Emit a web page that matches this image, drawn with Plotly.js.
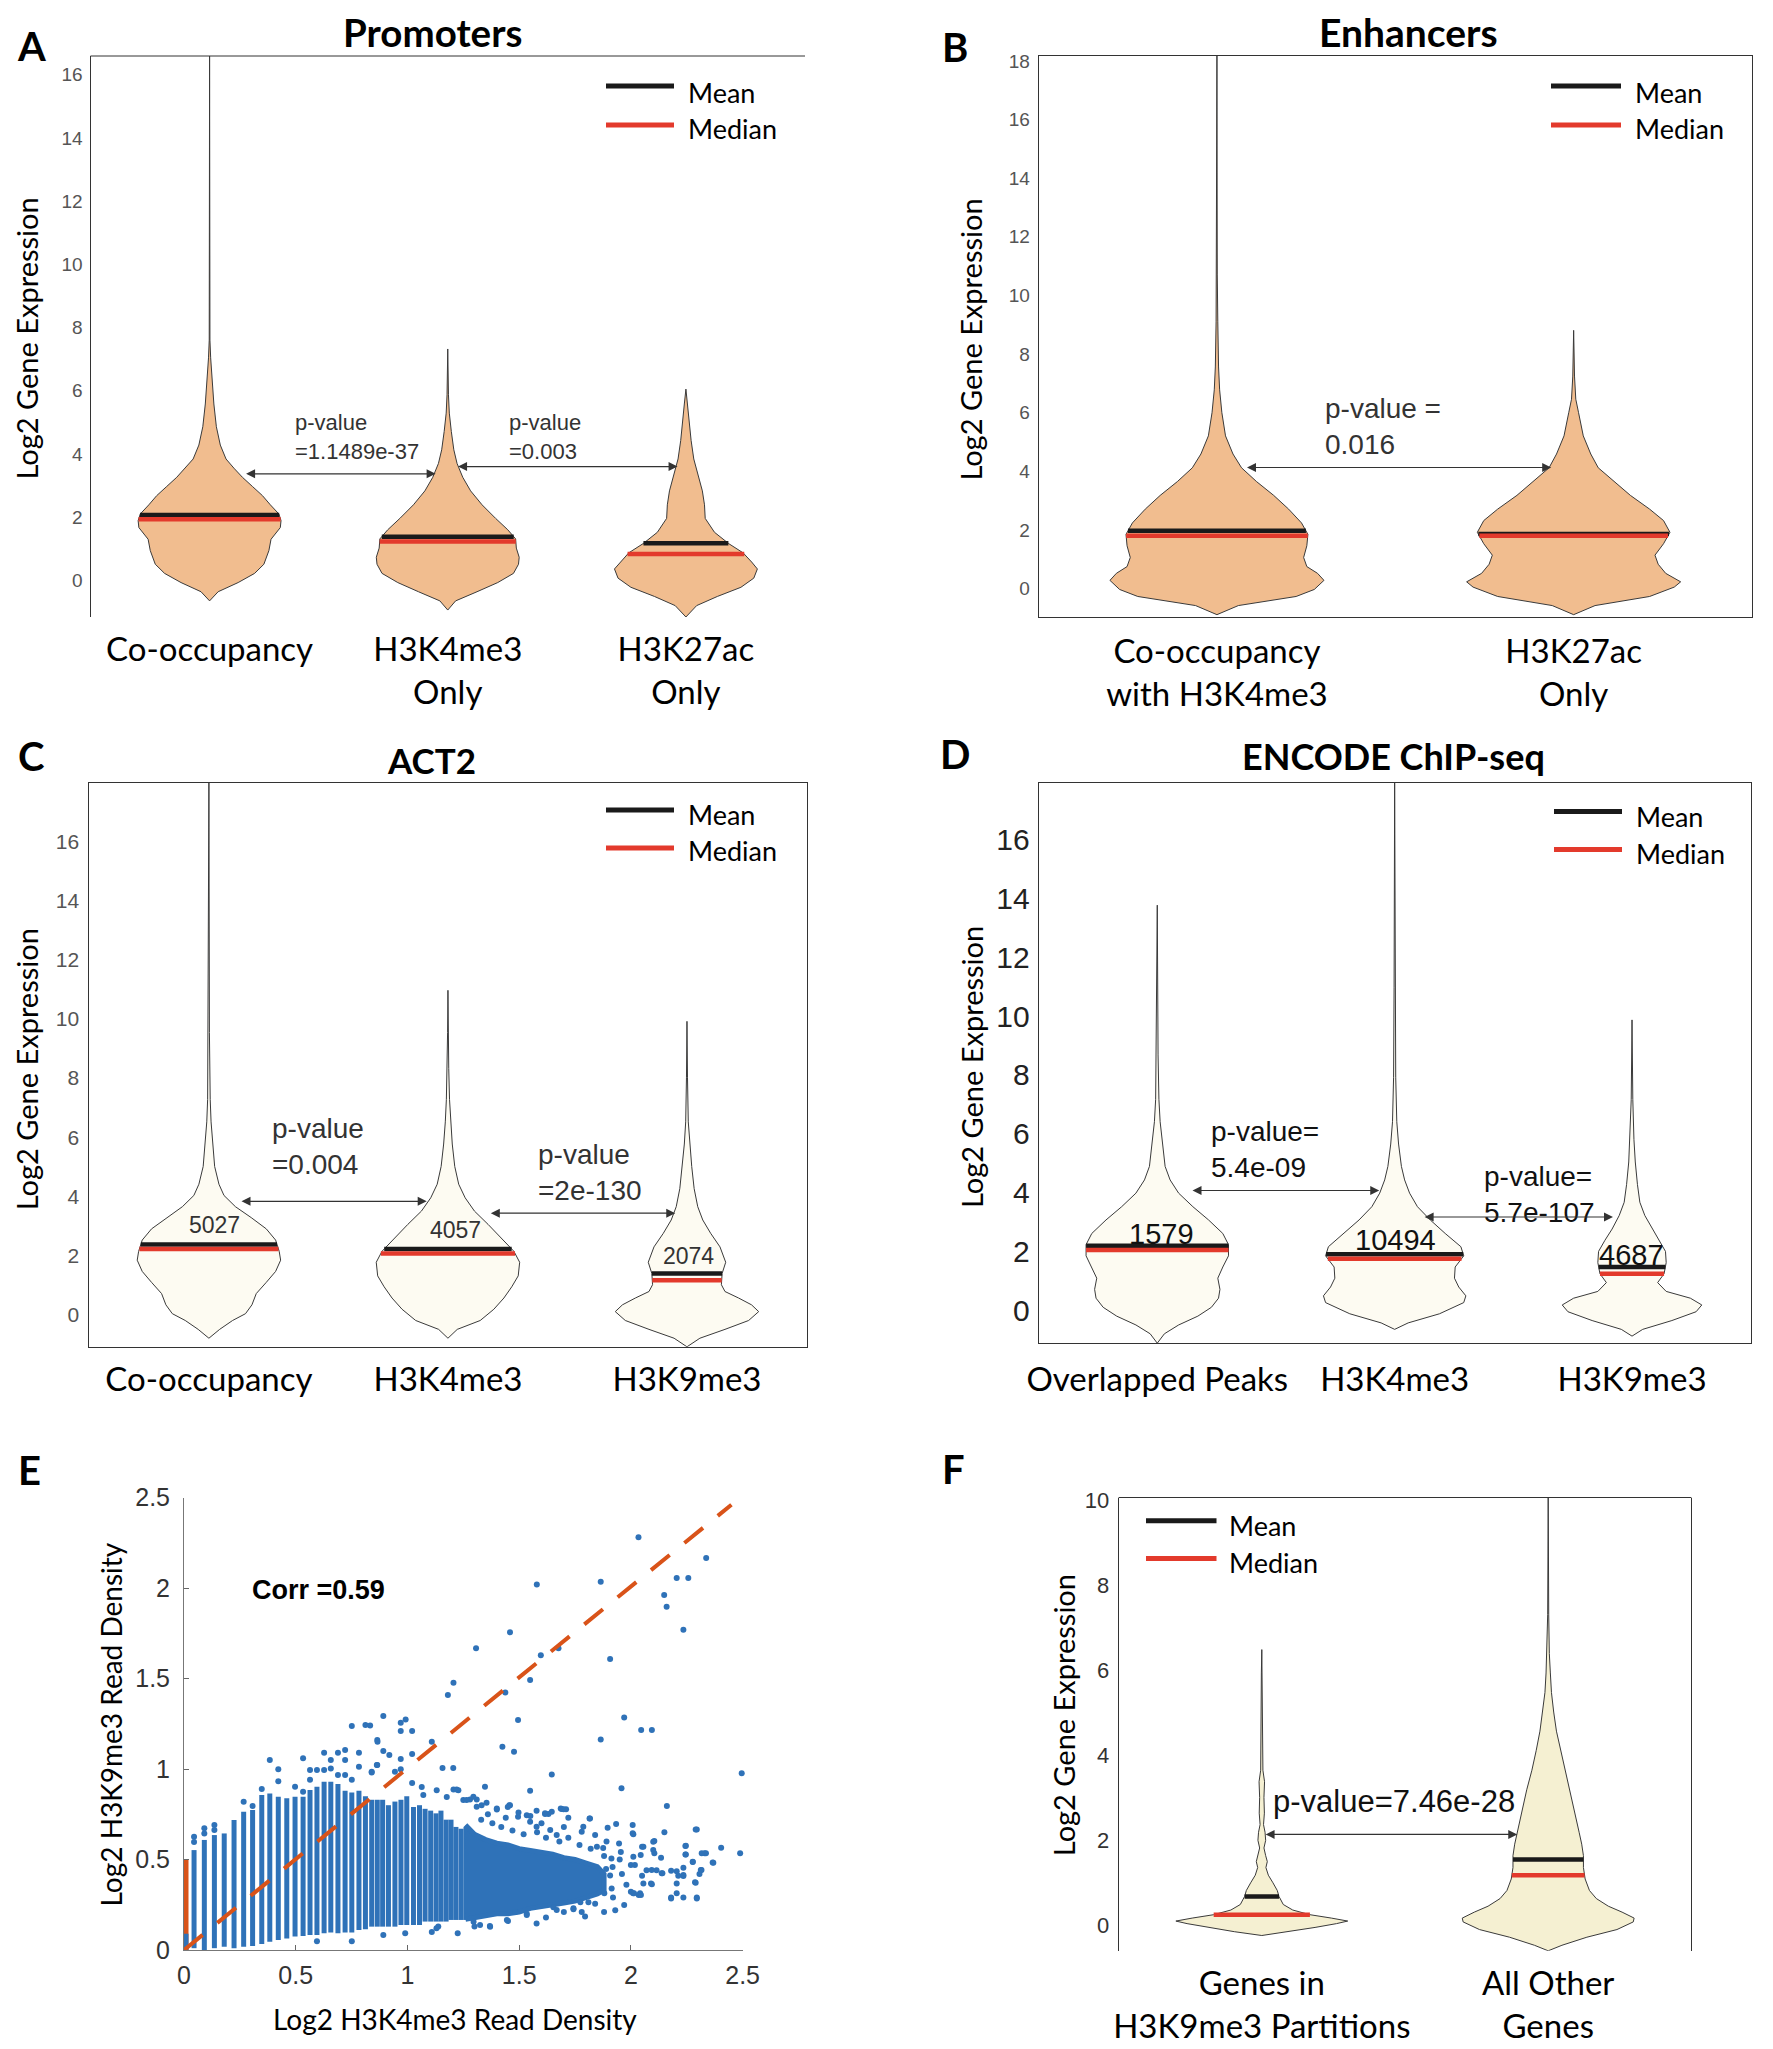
<!DOCTYPE html>
<html>
<head>
<meta charset="utf-8">
<script src="https://cdn.plot.ly/plotly-3.0.1.min.js"></script>
<style>html,body{margin:0;padding:0;background:#fff;}</style>
</head>
<body>
<div id="fig" style="width:1773px;height:2049px;"></div>
<script>
// ================= DATA =================
// ---- A: Promoters ----
const promoterCategories = ['Co-occupancy', 'H3K4me3<br>Only', 'H3K27ac<br>Only'];
const promoterMeans   = [2.07, 1.38, 1.17];
const promoterMedians = [1.93, 1.23, 0.83];
const promoterPvalues = ['p-value<br>=1.1489e-37', 'p-value<br>=0.003'];
// violin profiles: expression level / relative half-width (1 = widest)
const promCoLevel  = [-0.65,-0.36,-0.07,0.22,0.51,0.94,1.30,1.67,1.89,2.10,2.39,2.68,2.97,3.26,3.55,3.84,4.28,4.86,5.58,6.31,7.04,7.60,16.59];
const promCoDens   = [0,0.12,0.40,0.63,0.76,0.83,0.86,0.99,1.00,0.97,0.85,0.74,0.60,0.46,0.34,0.23,0.15,0.095,0.06,0.035,0.015,0.005,0];
const promK4Level  = [-0.94,-0.65,-0.36,-0.07,0.22,0.51,0.73,1.02,1.31,1.60,1.96,2.39,2.83,3.26,3.70,4.13,4.71,5.29,5.87,7.32];
const promK4Dens   = [0,0.11,0.41,0.70,0.92,0.99,1.00,0.96,0.95,0.84,0.67,0.48,0.32,0.21,0.13,0.085,0.05,0.022,0.01,0];
const promK27Level = [-1.16,-0.80,-0.51,-0.22,0.07,0.36,0.58,0.87,1.16,1.52,1.96,2.39,2.83,3.26,3.84,4.42,5.00,5.58,6.05];
const promK27Dens  = [0,0.15,0.44,0.77,0.95,1.00,0.92,0.80,0.60,0.40,0.27,0.26,0.23,0.18,0.11,0.073,0.044,0.022,0];

// ---- B: Enhancers ----
const enhancerCategories = ['Co-occupancy<br>with H3K4me3', 'H3K27ac<br>Only'];
const enhancerMeans   = [1.97, 1.86];
const enhancerMedians = [1.80, 1.80];
const enhancerPvalues = ['p-value =<br>0.016'];
const enhCoLevel  = [-0.89,-0.58,-0.27,-0.03,0.28,0.52,0.75,1.06,1.46,1.85,2.24,2.71,3.18,3.65,4.12,4.59,5.21,6.00,6.78,7.56,9.10,10.7,18.17];
const enhCoDens   = [0,0.20,0.74,0.91,1.00,0.94,0.84,0.81,0.84,0.85,0.79,0.67,0.53,0.37,0.23,0.15,0.08,0.046,0.025,0.015,0.008,0.003,0];
const enhK27Level = [-0.89,-0.58,-0.27,0.05,0.23,0.52,0.83,1.14,1.53,1.92,2.32,2.71,3.18,3.65,4.12,4.59,5.21,6.00,6.46,7.25,8.81];
const enhK27Dens  = [0,0.20,0.71,0.94,1.00,0.86,0.79,0.76,0.84,0.90,0.84,0.71,0.53,0.38,0.23,0.16,0.09,0.046,0.02,0.008,0];

// ---- C: ACT2 ----
const act2Categories = ['Co-occupancy', 'H3K4me3', 'H3K9me3'];
const act2Means   = [2.37, 2.22, 1.39];
const act2Medians = [2.22, 2.07, 1.16];
const act2Counts  = ['5027', '4057', '2074'];
const act2Pvalues = ['p-value<br>=0.004', 'p-value<br>=2e-130'];
const actCoLevel = [-0.80,-0.50,-0.20,0.03,0.33,0.71,1.09,1.46,1.84,2.14,2.52,2.90,3.28,3.65,4.03,4.41,5.01,5.77,6.52,7.28,8.03,9.54,18.0];
const actCoDens  = [0,0.15,0.33,0.51,0.60,0.66,0.80,0.93,1.00,0.98,0.93,0.80,0.59,0.37,0.21,0.14,0.08,0.05,0.03,0.018,0.011,0.007,0];
const actK4Level = [-0.80,-0.50,-0.20,0.18,0.56,0.94,1.31,1.77,2.14,2.60,3.05,3.50,3.95,4.41,5.01,5.77,6.52,7.28,8.33,9.54,10.97];
const actK4Dens  = [0,0.13,0.45,0.64,0.78,0.89,0.98,1.00,0.92,0.74,0.56,0.37,0.24,0.15,0.095,0.06,0.037,0.022,0.011,0.005,0];
const actK9Level = [-1.09,-0.80,-0.50,-0.20,0.10,0.33,0.56,0.78,1.01,1.39,1.77,2.29,2.75,3.20,3.65,4.26,5.01,5.77,6.52,8.03,9.92];
const actK9Dens  = [0,0.18,0.53,0.86,1.00,0.90,0.72,0.53,0.48,0.49,0.54,0.46,0.33,0.22,0.15,0.10,0.066,0.037,0.018,0.007,0];

// ---- D: ENCODE ChIP-seq ----
const encodeCategories = ['Overlapped Peaks', 'H3K4me3', 'H3K9me3'];
const encodeMeans   = [2.19, 1.90, 1.47];
const encodeMedians = [2.05, 1.75, 1.24];
const encodeCounts  = ['1579', '10494', '4687'];
const encodePvalues = ['p-value=<br>5.4e-09', 'p-value=<br>5.7e-107'];
const encOvLevel = [-1.12,-0.80,-0.50,-0.20,0.10,0.41,0.71,1.09,1.47,1.85,2.23,2.61,3.07,3.52,3.98,4.43,4.89,5.65,6.41,7.17,8.68,13.77];
const encOvDens  = [0,0.10,0.30,0.57,0.76,0.86,0.88,0.85,0.92,1.00,1.00,0.92,0.72,0.50,0.30,0.18,0.11,0.07,0.04,0.023,0.011,0];
const encK4Level = [-0.65,-0.43,-0.12,0.26,0.49,0.79,1.09,1.47,1.85,2.16,2.61,3.07,3.52,3.98,4.43,4.89,5.65,6.41,7.92,10.96,17.94];
const encK4Dens  = [0,0.19,0.63,0.97,1.00,0.90,0.84,0.85,0.97,0.93,0.71,0.50,0.32,0.21,0.14,0.095,0.055,0.03,0.015,0.008,0];
const encK9Level = [-0.88,-0.65,-0.35,-0.05,0.18,0.41,0.64,0.94,1.24,1.62,2.00,2.38,2.76,3.22,3.67,4.28,5.04,5.80,7.17,9.87];
const encK9Dens  = [0,0.15,0.56,0.90,0.98,0.82,0.48,0.36,0.45,0.48,0.47,0.38,0.28,0.18,0.11,0.076,0.046,0.027,0.011,0];

// ---- E: H3K4me3 vs H3K9me3 read density ----
const corrLabel = 'Corr =0.59';
// discrete columns of points: x value, lowest and highest y
const colH3K4 = [0,0.045,0.091,0.136,0.18,0.224,0.267,0.307,0.348,0.384,0.422,0.46,0.497,0.533,0.564,0.595,0.627,0.657,0.689,0.721,0.751,0.783,0.812,0.84,0.865,0.889,0.915,0.944,0.971,0.997,1.027,1.054,1.079,1.104,1.128,1.15,1.173,1.195,1.217,1.24,1.262];
const colH3K9Low  = [0,0.01,0,0.01,0.018,0.01,0.018,0.022,0.033,0.046,0.055,0.064,0.074,0.077,0.083,0.083,0.092,0.096,0.092,0.096,0.096,0.11,0.114,0.129,0.129,0.129,0.129,0.129,0.138,0.138,0.138,0.138,0.157,0.157,0.157,0.157,0.157,0.166,0.166,0.166,0.166];
const colH3K9High = [0.09,0.552,0.608,0.635,0.644,0.718,0.764,0.773,0.856,0.865,0.847,0.838,0.847,0.847,0.884,0.902,0.93,0.93,0.917,0.88,0.87,0.88,0.85,0.83,0.83,0.83,0.80,0.82,0.83,0.85,0.79,0.80,0.78,0.77,0.755,0.77,0.72,0.72,0.68,0.67,0.68];
// outline of the saturated dense cloud
const coreH3K4 = [1.26,1.30,1.35,1.40,1.45,1.50,1.55,1.60,1.65,1.70,1.75,1.80,1.85,1.88,1.88,1.85,1.80,1.75,1.70,1.65,1.60,1.55,1.50,1.45,1.40,1.35,1.30,1.26];
const coreH3K9 = [0.69,0.64,0.61,0.59,0.58,0.56,0.55,0.54,0.53,0.51,0.50,0.48,0.46,0.42,0.33,0.31,0.29,0.27,0.26,0.25,0.24,0.23,0.21,0.20,0.20,0.19,0.18,0.17];
// individually visible points [H3K4me3, H3K9me3]
const loosePoints = [
 [0.045,0.597],[0.045,0.626],[0.091,0.644],[0.091,0.672],[0.136,0.663],[0.136,0.69],[0.267,0.819],[0.307,0.795],
 [0.348,0.889],[0.384,1.05],[0.422,0.933],[0.422,0.998],[0.497,0.902],[0.533,0.875],[0.533,1.059],[0.564,0.94],
 [0.564,0.994],[0.595,0.994],[0.595,0.049],[0.627,0.994],[0.627,1.09],[0.657,1.003],[0.657,1.05],[0.689,0.967],
 [0.689,1.09],[0.721,0.967],[0.721,1.05],[0.721,1.105],[0.751,0.94],[0.751,1.238],[0.751,0.049],[0.783,1.013],
 [0.783,1.09],[0.812,1.243],[0.84,0.985],[0.865,1.022],[0.865,1.16],
 [0.833,1.24],[0.892,1.293],[0.97,1.256],[0.992,1.274],[0.97,1.21],[1.021,1.21],[0.866,1.15],[1.109,1.15],
 [0.892,1.1],[0.919,1.077],[1.021,1.083],[0.97,1.055],[1.157,1.005],[1.205,1.005],[0.863,1.022],[0.944,0.985],
 [0.97,0.998],[1.021,0.923],[0.84,0.98],[1.064,0.9],[1.071,0.857],[1.131,0.882],[1.176,0.845],[1.228,0.882],
 [1.181,1.409],[1.206,1.477],[1.307,1.667],[1.438,1.422],[1.549,1.492],[1.495,1.271],[1.425,1.123],[1.477,1.095],
 [1.646,0.97],[1.549,0.88],[1.597,1.628],[1.347,0.902],
 [2.034,2.28],[2.337,2.166],[2.205,2.055],[2.257,2.055],[2.149,1.961],[2.16,1.897],[2.235,1.77],[1.865,2.035],
 [1.579,2.02],[1.459,1.755],[1.676,1.667],[1.907,1.608],
 [1.97,1.285],[2.046,1.215],[2.094,1.215],[1.865,1.163],[1.958,0.893],[2.496,0.976],[2.161,0.795],[1.69,0.779],
 [1.72,0.731],[1.815,0.727],[1.934,0.696],[2.008,0.69],[2.008,0.645],[2.15,0.65],[2.295,0.666],[2.404,0.565],
 [2.489,0.534],[2.244,0.575],[2.244,0.528],[2.105,0.602],[2.33,0.534],[2.366,0.484],[2.277,0.488],[2.316,0.442],
 [2.235,0.455],[2.235,0.409],[2.205,0.435],[2.18,0.438],[2.138,0.424],[2.287,0.374],[2.205,0.368],[2.094,0.363],
 [2.041,0.313],[2.18,0.29],[2.235,0.29],[2.295,0.29],[2.205,0.313],[2.115,0.44],[2.05,0.41],[2.07,0.44],
 [2.105,0.534],[2.05,0.57],[1.97,0.248],[1.795,0.185],[1.743,0.225],[1.84,0.255],[1.92,0.29],[2.01,0.313],
 [1.28,0.831],[1.31,0.831],[1.354,0.813],[1.456,0.8],[1.495,0.736],[1.549,0.708],[1.616,0.755],[1.646,0.764],
 [1.686,0.782],[1.4,0.776],[1.225,0.092],[1.109,0.1],[1.138,0.13],[0.99,0.092],[0.892,0.083],[1.296,0.156],
 [1.325,0.138],[1.369,0.133],[1.578,0.147],[1.534,0.2],[1.482,0.21],[1.653,0.236],
 [1.33,0.72],[1.36,0.75],[1.38,0.70],[1.42,0.68],[1.44,0.73],[1.47,0.66],[1.52,0.64],[1.55,0.74],[1.58,0.65],
 [1.60,0.70],[1.62,0.62],[1.68,0.60],[1.70,0.68],[1.72,0.62],[1.77,0.58],[1.82,0.56],[1.88,0.52],[1.95,0.50],
 [1.98,0.36],[1.96,0.42],[2.0,0.47],[1.93,0.22],[1.88,0.21],[1.30,0.13],[1.45,0.16],[1.62,0.18],[1.70,0.21],[1.78,0.21],
 [2.369,0.482],[2.336,0.534],[2.317,0.534],[2.313,0.442],[2.307,0.42],[2.29,0.666],[2.29,0.372],[2.295,0.285],
 [2.277,0.486],[2.246,0.576],[2.246,0.528],[2.235,0.415],[2.212,0.41],[2.18,0.285],[2.135,0.51],[2.141,0.424],
 [2.1,0.598],[2.1,0.552],[2.093,0.442],[2.09,0.368],[2.056,0.57],[2.044,0.525],[2.056,0.368],[2.035,0.304],
 [2.045,0.304],[2.011,0.64],[2.011,0.515],[2.018,0.47],[2.0,0.322],[2.014,0.313],[1.947,0.589],[1.955,0.542],
 [1.913,0.505],[1.918,0.459],[1.896,0.676],[1.891,0.6],[1.876,0.563],[1.889,0.448],[1.907,0.411],[1.881,0.313],
 [1.914,0.34],[1.84,0.635],[1.848,0.57],[1.817,0.727],[1.787,0.681],[1.78,0.654],[1.774,0.264],[1.81,0.264],
 [1.71,0.777],[1.699,0.777],[1.631,0.751],[1.616,0.751],[1.459,0.8],[1.449,0.79],[1.497,0.76],[1.578,0.77],
 [1.534,0.745],[1.639,0.663],[1.668,0.635],[1.578,0.681],[1.4,0.782],[1.295,0.847],[1.25,0.829],[1.265,0.829],
 [1.31,0.792],[1.332,0.8],[1.206,0.887],[1.22,0.887],[1.37,0.129],[1.13,0.12],[1.445,0.166],[1.534,0.194],
 [1.668,0.221],[1.743,0.23]
];
const zeroColumnH3K9 = [0, 0.5];      // orange segment on the y axis
const fitH3K4 = [0, 2.45];
const fitH3K9 = [0, 2.46];

// ---- F: H3K9me3 partitions ----
const partitionCategories = ['Genes in<br>H3K9me3 Partitions', 'All Other<br>Genes'];
const partitionMeans   = [0.67, 1.54];
const partitionMedians = [0.24, 1.17];
const partitionPvalues = ['p-value=7.46e-28'];
const partInLevel = [-0.25,-0.16,-0.06,0.03,0.09,0.16,0.24,0.35,0.48,0.67,0.81,0.99,1.17,1.35,1.49,1.63,1.81,1.99,2.18,2.36,2.63,3.00,3.37,3.64,4.10,5.00,5.93,6.48];
const partInDens  = [0,0.32,0.62,0.87,1.00,0.81,0.56,0.36,0.25,0.20,0.18,0.13,0.076,0.048,0.064,0.045,0.025,0.045,0.038,0.02,0.03,0.025,0.032,0.013,0.01,0.008,0.005,0];
const partOutLevel = [-0.61,-0.48,-0.29,-0.11,0.07,0.16,0.30,0.44,0.62,0.81,1.08,1.35,1.63,1.90,2.18,2.45,2.73,3.18,3.64,4.10,4.56,5.01,5.47,5.93,6.39,7.30,10.06];
const partOutDens  = [0,0.16,0.45,0.80,0.99,1.00,0.86,0.70,0.56,0.48,0.43,0.41,0.41,0.39,0.36,0.33,0.30,0.25,0.19,0.14,0.096,0.064,0.038,0.025,0.013,0.006,0];

// ================= STYLE / LAYOUT =================
const SANS = '"Liberation Sans", Arial, sans-serif';
const CAL  = 'Lato, "Open Sans", sans-serif';
const W = 1773, H = 2049;
const PX = v => v / W, PY = v => 1 - v / H;
const HALF = 0.3;
const BLUE = '#2F72B8', ORANGE = '#D95319', RED = '#E33A2C', BLACK = '#1a1a1a';

const traces = [], shapes = [], annotations = [];
const layout = {
  width: W, height: H, margin: {l: 0, r: 0, t: 0, b: 0},
  paper_bgcolor: '#fff', plot_bgcolor: 'rgba(0,0,0,0)', showlegend: false,
  font: {family: CAL, color: '#000'}
};

function interp(ys, ws, v) {
  for (let i = 0; i < ys.length - 1; i++) {
    if (v >= ys[i] && v <= ys[i + 1]) {
      const t = (v - ys[i]) / (ys[i + 1] - ys[i]);
      return ws[i] + t * (ws[i + 1] - ws[i]);
    }
  }
  return 0;
}
function ax(n) { return n === 1 ? '' : String(n); }

const violinPanels = [
  { n: 1, box: [90.5, 805, 56, 617], yr: [-1.16, 16.59], ticks: [0,2,4,6,8,10,12,14,16], frame: 'lt', fill: '#F1BD8F',
    tick: {size: 19, color: '#555'}, tickGap: 3, catGap: 10, cats: promoterCategories,
    levels: [promCoLevel, promK4Level, promK27Level], dens: [promCoDens, promK4Dens, promK27Dens],
    means: promoterMeans, medians: promoterMedians,
    pText: promoterPvalues, pPos: [[1.35, 4.53], [2.25, 4.55]], pSize: 22, pColor: '#333',
    arrows: [[1.147, 1.949, 3.37], [2.037, 2.965, 3.6]],
    title: 'Promoters', titleSize: 38.5, titlePos: [432, 32], label: 'A', labelPos: [31, 46], ytitlePos: [26, 338.5],
    legend: {x0: 606, x1: 674, yMean: 86, yMed: 125, tx: 686, tyMean: 92, tyMed: 129} },
  { n: 2, box: [1038.6, 1752, 56, 617], yr: [-0.97, 18.17], ticks: [0,2,4,6,8,10,12,14,16,18], frame: 'box', fill: '#F1BD8F',
    tick: {size: 19, color: '#555'}, tickGap: 4, catGap: 5, cats: enhancerCategories,
    levels: [enhCoLevel, enhK27Level], dens: [enhCoDens, enhK27Dens],
    means: enhancerMeans, medians: enhancerMedians,
    pText: enhancerPvalues, pPos: [[1.296, 5.515]], pSize: 28, pColor: '#333',
    arrows: [[1.08, 1.937, 4.13]],
    title: 'Enhancers', titleSize: 39, titlePos: [1408, 32], label: 'B', labelPos: [955, 47], ytitlePos: [971, 339.6],
    legend: {x0: 1551, x1: 1621, yMean: 86, yMed: 125, tx: 1633, tyMean: 92, tyMed: 129} },
  { n: 3, box: [89.4, 806.5, 782.5, 1346.8], yr: [-1.09, 18.0], ticks: [0,2,4,6,8,10,12,14,16], frame: 'box', fill: '#FDFBF2',
    tick: {size: 21, color: '#555'}, tickGap: 5, catGap: 4, cats: act2Categories,
    levels: [actCoLevel, actK4Level, actK9Level], dens: [actCoDens, actK4Dens, actK9Dens],
    means: act2Means, medians: act2Medians,
    counts: act2Counts, countPos: [[1.024, 3.02], [2.03, 2.85], [3.007, 1.99]], countSize: 23, countColor: '#333',
    pText: act2Pvalues, pPos: [[1.257, 5.7], [2.37, 4.79]], pSize: 28, pColor: '#333',
    arrows: [[1.13, 1.911, 3.83], [2.173, 2.951, 3.43]],
    title: 'ACT2', titleSize: 35, titlePos: [431, 760], label: 'C', labelPos: [31, 756], ytitlePos: [26, 1069.3],
    legend: {x0: 606, x1: 674, yMean: 810, yMed: 848, tx: 686, tyMean: 814, tyMed: 851} },
  { n: 4, box: [1038.6, 1750.7, 782.5, 1343.2], yr: [-1.12, 17.94], ticks: [0,2,4,6,8,10,12,14,16], frame: 'box', fill: '#FDFBF2',
    tick: {size: 30, color: '#222'}, tickGap: 2, catGap: 7, cats: encodeCategories,
    levels: [encOvLevel, encK4Level, encK9Level], dens: [encOvDens, encK4Dens, encK9Dens],
    means: encodeMeans, medians: encodeMedians,
    counts: encodeCounts, countPos: [[1.018, 2.58], [2.005, 2.38], [2.998, 1.88]], countSize: 29, countColor: '#111',
    pText: encodePvalues, pPos: [[1.218, 5.46], [2.37, 3.94]], pSize: 28, pColor: '#111',
    arrows: [[1.142, 1.935, 4.07], [2.12, 2.92, 3.17]],
    title: 'ENCODE ChIP-seq', titleSize: 36, titlePos: [1393, 756], label: 'D', labelPos: [955, 754.5], ytitlePos: [971, 1067],
    legend: {x0: 1554, x1: 1622, yMean: 811.5, yMed: 849.5, tx: 1634, tyMean: 816, tyMed: 853} },
  { n: 6, box: [1118.6, 1691.4, 1497.5, 1950.8], yr: [-0.61, 10.06], ticks: [0,2,4,6,8,10], frame: 'ltr', fill: '#F5F0D2',
    tick: {size: 22, color: '#333'}, tickGap: 4, catGap: 10, cats: partitionCategories,
    levels: [partInLevel, partOutLevel], dens: [partInDens, partOutDens],
    means: partitionMeans, medians: partitionMedians,
    pText: partitionPvalues, pPos: [[1.032, 2.91]], pSize: 31, pColor: '#111',
    arrows: [[1.008, 1.892, 2.13]],
    title: null, label: 'F', labelPos: [953.5, 1469], ytitlePos: [1063.4, 1714.8],
    legend: {x0: 1146, x1: 1216.5, yMean: 1520.8, yMed: 1558.5, tx: 1227, tyMean: 1525, tyMed: 1562} }
];

violinPanels.forEach(p => {
  const xr = 'x' + ax(p.n), yr = 'y' + ax(p.n);
  layout['xaxis' + ax(p.n)] = {
    domain: [PX(p.box[0]), PX(p.box[1])], range: [0.5, p.cats.length + 0.5], anchor: yr,
    tickmode: 'array', tickvals: p.cats.map((c, i) => i + 1), ticktext: p.cats,
    tickfont: {family: CAL, size: 33, color: '#000'}, ticks: '', ticklabelstandoff: p.catGap,
    showgrid: false, zeroline: false, showline: p.frame === 'box', mirror: p.frame === 'box',
    linecolor: '#333', linewidth: 1, fixedrange: true
  };
  layout['yaxis' + ax(p.n)] = {
    domain: [PY(p.box[3]), PY(p.box[2])], range: p.yr, anchor: xr,
    tickmode: 'array', tickvals: p.ticks, ticks: '', ticklabelstandoff: p.tickGap,
    tickfont: Object.assign({family: SANS}, p.tick),
    showgrid: false, zeroline: false, showline: true, mirror: p.frame !== 'lt',
    linecolor: '#333', linewidth: 1, fixedrange: true
  };
  if (p.frame !== 'box') {
    shapes.push({type: 'line', xref: xr + ' domain', yref: yr + ' domain', x0: 0, x1: 1, y0: 1, y1: 1,
      line: {color: '#333', width: 1}});
  }
  // violins
  p.levels.forEach((lv, i) => {
    const c = i + 1, d = p.dens[i], X = [], Y = [];
    for (let k = 0; k < lv.length; k++) { X.push(c + HALF * d[k]); Y.push(lv[k]); }
    for (let k = lv.length - 1; k >= 0; k--) { X.push(c - HALF * d[k]); Y.push(lv[k]); }
    traces.push({type: 'scatter', mode: 'lines', x: X, y: Y, fill: 'toself', fillcolor: p.fill,
      line: {color: '#3a3a3a', width: 1}, xaxis: xr, yaxis: yr, hoverinfo: 'skip', name: p.cats[i]});
  });
  // mean & median segments
  const seg = vals => {
    const X = [], Y = [];
    vals.forEach((v, i) => {
      const hw = HALF * interp(p.levels[i], p.dens[i], v);
      X.push(i + 1 - hw, i + 1 + hw, null); Y.push(v, v, null);
    });
    return {X, Y};
  };
  const m = seg(p.means), md = seg(p.medians);
  traces.push({type: 'scatter', mode: 'lines', x: m.X, y: m.Y, name: 'Mean', line: {color: BLACK, width: 4.5},
    xaxis: xr, yaxis: yr, hoverinfo: 'skip', connectgaps: false});
  traces.push({type: 'scatter', mode: 'lines', x: md.X, y: md.Y, name: 'Median', line: {color: RED, width: 4.5},
    xaxis: xr, yaxis: yr, hoverinfo: 'skip', connectgaps: false});
  // counts
  if (p.counts) p.counts.forEach((t, i) => annotations.push({xref: xr, yref: yr, x: p.countPos[i][0], y: p.countPos[i][1],
    text: t, showarrow: false, xanchor: 'center', yanchor: 'middle', font: {family: SANS, size: p.countSize, color: p.countColor}}));
  // p-values
  p.pText.forEach((t, i) => annotations.push({xref: xr, yref: yr, x: p.pPos[i][0], y: p.pPos[i][1], text: t,
    showarrow: false, xanchor: 'left', yanchor: 'middle', align: 'left', font: {family: SANS, size: p.pSize, color: p.pColor}}));
  // double arrows
  p.arrows.forEach(a => annotations.push({xref: xr, yref: yr, axref: xr, ayref: yr, x: a[1], y: a[2], ax: a[0], ay: a[2],
    text: '', showarrow: true, arrowside: 'end+start', arrowhead: 2, startarrowhead: 2, arrowsize: 1.5, startarrowsize: 1.5,
    arrowwidth: 1.2, arrowcolor: '#333', standoff: 0, startstandoff: 0}));
  // title, panel letter, y title
  if (p.title) annotations.push({xref: 'paper', yref: 'paper', x: PX(p.titlePos[0]), y: PY(p.titlePos[1]), text: '<b>' + p.title + '</b>',
    showarrow: false, xanchor: 'center', yanchor: 'middle', font: {family: CAL, size: p.titleSize, color: '#000'}});
  annotations.push({xref: 'paper', yref: 'paper', x: PX(p.labelPos[0]), y: PY(p.labelPos[1]), text: '<b>' + p.label + '</b>',
    showarrow: false, xanchor: 'center', yanchor: 'middle', font: {family: CAL, size: 40, color: '#000'}});
  annotations.push({xref: 'paper', yref: 'paper', x: PX(p.ytitlePos[0]), y: PY(p.ytitlePos[1]), text: 'Log2 Gene Expression',
    textangle: -90, showarrow: false, xanchor: 'center', yanchor: 'middle', font: {family: CAL, size: 29, color: '#000'}});
  // legend
  const L = p.legend;
  shapes.push({type: 'line', xref: 'paper', yref: 'paper', x0: PX(L.x0), x1: PX(L.x1), y0: PY(L.yMean), y1: PY(L.yMean), line: {color: BLACK, width: 5}});
  shapes.push({type: 'line', xref: 'paper', yref: 'paper', x0: PX(L.x0), x1: PX(L.x1), y0: PY(L.yMed), y1: PY(L.yMed), line: {color: RED, width: 5}});
  annotations.push({xref: 'paper', yref: 'paper', x: PX(L.tx), y: PY(L.tyMean), text: 'Mean', showarrow: false,
    xanchor: 'left', yanchor: 'middle', font: {family: CAL, size: 27, color: '#000'}});
  annotations.push({xref: 'paper', yref: 'paper', x: PX(L.tx), y: PY(L.tyMed), text: 'Median', showarrow: false,
    xanchor: 'left', yanchor: 'middle', font: {family: CAL, size: 27, color: '#000'}});
});

// ---- Panel E: scatter ----
const eAxisCommon = {range: [0, 2.5], tick0: 0, dtick: 0.5, ticks: 'inside', ticklen: 5, tickcolor: '#666', tickwidth: 1,
  showline: true, linecolor: '#777', linewidth: 1, showgrid: false, zeroline: false, fixedrange: true,
  tickfont: {family: SANS, size: 25, color: '#333'}};
layout.xaxis5 = Object.assign({}, eAxisCommon, {domain: [PX(184), PX(742.6)], anchor: 'y5', ticklabelstandoff: 3});
layout.yaxis5 = Object.assign({}, eAxisCommon, {domain: [PY(1950), PY(1497.5)], anchor: 'x5', ticklabelstandoff: 8});

traces.push({type: 'scatter', mode: 'lines', x: [0, 0], y: zeroColumnH3K9, line: {color: ORANGE, width: 9},
  xaxis: 'x5', yaxis: 'y5', hoverinfo: 'skip'});
(function () {
  const X = [], Y = [], X0 = [], Y0 = [];
  colH3K4.forEach((x, i) => {
    if (x === 0) { X0.push(x, x); Y0.push(colH3K9Low[i], colH3K9High[i]); }
    else { X.push(x, x, null); Y.push(colH3K9Low[i], colH3K9High[i], null); }
  });
  traces.push({type: 'scatter', mode: 'lines', x: X0, y: Y0, line: {color: BLUE, width: 9},
    xaxis: 'x5', yaxis: 'y5', hoverinfo: 'skip'});
  traces.push({type: 'scatter', mode: 'lines', x: X, y: Y, line: {color: BLUE, width: 5}, connectgaps: false,
    xaxis: 'x5', yaxis: 'y5', hoverinfo: 'skip', name: 'genes'});
})();
traces.push({type: 'scatter', mode: 'lines', x: coreH3K4, y: coreH3K9, fill: 'toself', fillcolor: BLUE,
  line: {color: BLUE, width: 5}, xaxis: 'x5', yaxis: 'y5', hoverinfo: 'skip'});
traces.push({type: 'scatter', mode: 'markers', x: loosePoints.map(p => p[0]), y: loosePoints.map(p => p[1]),
  marker: {color: BLUE, size: 6}, cliponaxis: false, xaxis: 'x5', yaxis: 'y5', hoverinfo: 'skip'});
traces.push({type: 'scatter', mode: 'lines', x: fitH3K4, y: fitH3K9, line: {color: ORANGE, width: 4, dash: '24px,19px'},
  xaxis: 'x5', yaxis: 'y5', hoverinfo: 'skip'});

annotations.push({xref: 'x5', yref: 'y5', x: 0.295, y: 1.99, text: '<b>' + corrLabel + '</b>', showarrow: false,
  xanchor: 'left', yanchor: 'middle', font: {family: SANS, size: 27, color: '#000'}});
annotations.push({xref: 'paper', yref: 'paper', x: PX(29.5), y: PY(1470), text: '<b>E</b>', showarrow: false,
  xanchor: 'center', yanchor: 'middle', font: {family: CAL, size: 40, color: '#000'}});
annotations.push({xref: 'paper', yref: 'paper', x: PX(455), y: PY(2019), text: 'Log2 H3K4me3 Read Density', showarrow: false,
  xanchor: 'center', yanchor: 'middle', font: {family: CAL, size: 28, color: '#000'}});
annotations.push({xref: 'paper', yref: 'paper', x: PX(110), y: PY(1724.5), text: 'Log2 H3K9me3 Read Density', textangle: -90,
  showarrow: false, xanchor: 'center', yanchor: 'middle', font: {family: CAL, size: 28, color: '#000'}});

layout.shapes = shapes;
layout.annotations = annotations;
Plotly.newPlot('fig', traces, layout, {displayModeBar: false, staticPlot: true});
</script>
</body>
</html>
